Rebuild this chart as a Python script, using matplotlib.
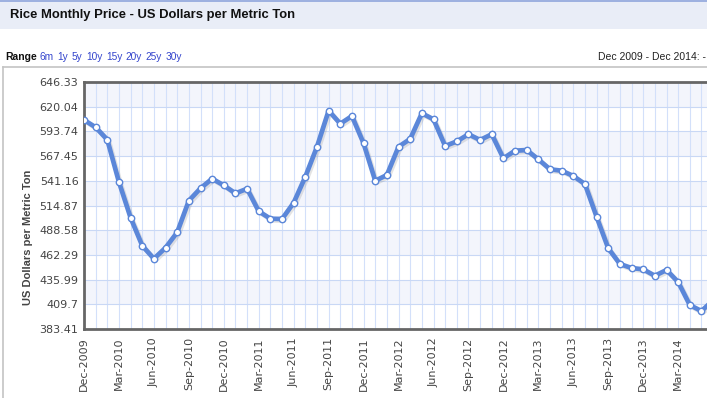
import numpy as np
import pandas as pd
import matplotlib
matplotlib.use("Agg")
import matplotlib.pyplot as plt
import matplotlib.patheffects as pe
from matplotlib.patches import Rectangle
from matplotlib.lines import Line2D

# --- Data ---
months = pd.date_range("2009-12-01", periods=61, freq="MS")
month_labels = [m.strftime("%b-%Y") for m in months]

price = [605.9, 598.1, 584.9, 539.9, 501.9, 472.1, 458.2, 469.9, 486.3, 520.0,
         533.2, 543.4, 536.3, 527.8, 532.7, 508.7, 500.8, 500.5, 517.8, 545.5,
         577.4, 615.8, 601.9, 610.1, 581.0, 541.2, 547.3, 577.4, 585.7, 613.0,
         606.6, 578.2, 583.1, 590.7, 584.6, 590.7, 565.1, 573.2, 573.9, 564.0,
         553.4, 551.9, 546.3, 537.7, 502.9, 469.3, 452.6, 448.3, 446.9, 440.1,
         446.2, 433.4, 408.9, 402.5, 414.0]

y_ticks = [383.41, 409.7, 435.99, 462.29, 488.58, 514.87, 541.16, 567.45,
           593.74, 620.04, 646.33]

range_links = ["6m", "1y", "5y", "10y", "15y", "20y", "25y", "30y"]

title = "Rice Monthly Price - US Dollars per Metric Ton"
y_label = "US Dollars per Metric Ton"
period_text = "Dec 2009 - Dec 2014: -"

# --- Figure ---
W, H = 707, 398
fig = plt.figure(figsize=(W / 100, H / 100), dpi=100)
fig.patch.set_facecolor("white")

def px(x, y):
    return x / W, 1 - y / H

# header band
fig.patches.append(Rectangle((0, 1 - 29 / H), 1, 29 / H, transform=fig.transFigure,
                             facecolor="#e9edf7", edgecolor="none", zorder=0))
fig.lines.append(Line2D([0, 1], [1 - 1 / H] * 2, transform=fig.transFigure,
                        color="#8fa6dc", lw=1.2))
fig.text(*px(10, 15), title, fontsize=9.4, fontweight="bold", color="#111111",
         family="Liberation Sans", va="center", ha="left")

# range row
renderer = fig.canvas.get_renderer()
fig.text(*px(5, 57), "Range", fontsize=7.5, fontweight="bold", color="#111111",
         family="Liberation Sans", va="center")
xpos = 40
for lab in range_links:
    t = fig.text(*px(xpos, 57), lab, fontsize=7.3, color="#3344cc",
                 family="Liberation Sans", va="center")
    xpos += t.get_window_extent(renderer).width + 3.5
fig.text(*px(598, 57), period_text, fontsize=7.5, color="#222222",
         family="Liberation Sans", va="center")

# container border
fig.lines.append(Line2D([3 / W, 1], [1 - 67 / H] * 2, transform=fig.transFigure,
                        color="#c4c4c4", lw=1.2))
fig.lines.append(Line2D([3 / W, 3 / W], [1 - 67 / H, 0], transform=fig.transFigure,
                        color="#c4c4c4", lw=1.2))

# --- Plot area ---
step = 11.65
left_px, top_px, bottom_px = 84, 82, 329
n_span = 60
ax = fig.add_axes([left_px / W, 1 - bottom_px / H, n_span * step / W,
                   (bottom_px - top_px) / H])
ax.set_xlim(0, n_span)
ax.set_ylim(y_ticks[0], y_ticks[-1])

# alternating bands
for k in range(len(y_ticks) - 1):
    if k % 2 == 1:
        ax.axhspan(y_ticks[k], y_ticks[k + 1], color="#f3f5fc", zorder=0, lw=0)

# grid
for i in range(n_span + 1):
    ax.axvline(i, color="#d3e0fa", lw=0.8, zorder=1)
for yv in y_ticks:
    ax.axhline(yv, color="#c9d8f5", lw=0.8, zorder=1)

x = np.arange(len(price))
ax.plot(x, price, color="#5b87d9", lw=3.4, solid_joinstyle="round", zorder=3,
        path_effects=[pe.SimpleLineShadow(offset=(1.2, -1.2), shadow_color="#777777",
                                          alpha=0.2), pe.Normal()])
ax.plot(x, price, ls="none", marker="o", ms=4.6, mfc="white", mec="#5b87d9",
        mew=1.0, zorder=4)

# only the month labels that fit in the visible (cropped) picture
last_tick = 51
ax.set_yticks(y_ticks)
ax.set_yticklabels([f"{v:g}" for v in y_ticks])
ax.set_xticks(range(0, last_tick + 1, 3))
ax.set_xticklabels(month_labels[0:last_tick + 1:3], rotation=90)
ax.tick_params(axis="both", length=0, labelsize=8, labelcolor="#444444")
ax.tick_params(axis="y", pad=4)
ax.tick_params(axis="x", pad=6)

for s in ax.spines.values():
    s.set_color("#666666")
    s.set_linewidth(2)

fig.text(*px(28, 237), y_label, rotation=90, fontsize=8, fontweight="bold",
         color="#444444", family="Liberation Sans", ha="center", va="center")

fig.savefig("out.png", dpi=100)
